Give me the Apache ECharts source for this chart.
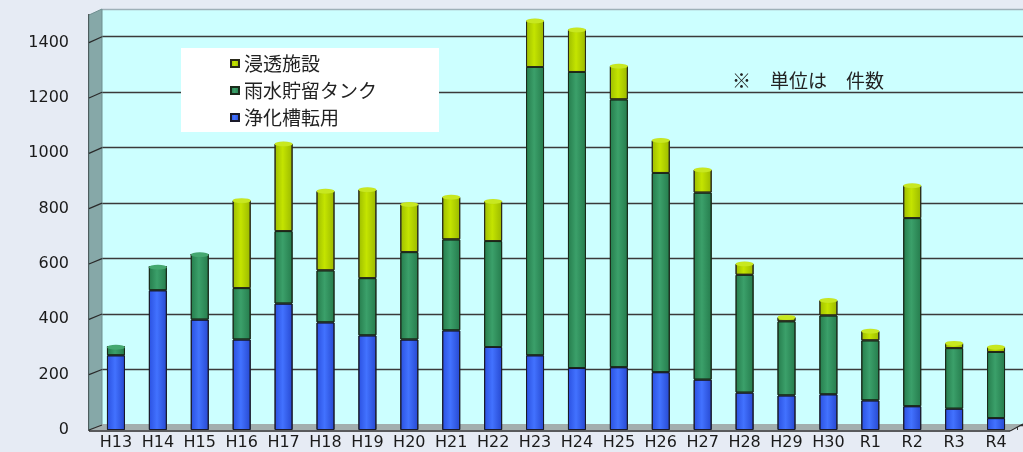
<!DOCTYPE html>
<html><head><meta charset="utf-8">
<script src="https://cdn.jsdelivr.net/npm/echarts@6/dist/echarts.min.js"></script>
<style>html,body{margin:0;padding:0;background:#e6ebf4;}#c{width:1023px;height:452px;}</style>
</head><body><div id="c"></div>
<script>
var categories = ['H13','H14','H15','H16','H17','H18','H19','H20','H21','H22','H23','H24','H25','H26','H27','H28','H29','H30','R1','R2','R3','R4'];
var jokaso  = [270,505,399,327,457,389,342,327,360,300,270,224,227,209,182,135,125,129,107,86,77,43];
var tank    = [30,84,235,186,262,188,207,316,329,383,1042,1070,968,720,676,426,268,285,217,680,219,239];
var shinto  = [0,0,0,317,316,287,320,173,153,144,167,153,121,118,83,40,15,55,34,118,18,18];
var yTicks  = [0,200,400,600,800,1000,1200,1400];
var seriesNames = ['浄化槽転用','雨水貯留タンク','浸透施設'];
var note = '※　単位は　件数';

var COL = {
  blue: new echarts.graphic.LinearGradient(0,0,1,0,[{offset:0,color:'#2a50e0'},{offset:0.45,color:'#4272ff'},{offset:1,color:'#2648d0'}]),
  green: new echarts.graphic.LinearGradient(0,0,1,0,[{offset:0,color:'#257c4c'},{offset:0.45,color:'#3ba06a'},{offset:1,color:'#257b4c'}]),
  yellow: new echarts.graphic.LinearGradient(0,0,1,0,[{offset:0,color:'#9cbc00'},{offset:0.45,color:'#c4e400'},{offset:1,color:'#9ab800'}])
};
var totals = categories.map(function(c,i){return jokaso[i]+tank[i]+shinto[i];});
var capData = totals.map(function(t,i){
  return {value:t, itemStyle:{color: shinto[i]>0 ? '#c8e820' : '#44a870'}};
});

var chart = echarts.init(document.getElementById('c'));
var FONT = 'DejaVu Sans';
var splitColors = yTicks.map(function(){return '#3a3a3a';}).concat(['#9fb0b8']);

var option = {
  backgroundColor:'#e6ebf4',
  animation:false,
  title:{text:note,left:727,top:66,textStyle:{fontSize:19,fontWeight:'normal',color:'#222',fontFamily:'Noto Sans CJK JP'}},
  legend:{
    orient:'vertical',left:181,top:48,
    data:[seriesNames[2],seriesNames[1],seriesNames[0]],
    backgroundColor:'#ffffff',
    padding:[6,62,5,49],
    itemWidth:8,itemHeight:7,itemGap:8,icon:'rect',
    textStyle:{fontSize:19,color:'#222',fontFamily:'Noto Sans CJK JP'}
  },
  grid:[
    {left:102,right:0,top:9,bottom:27,show:true,backgroundColor:'#ccffff',borderWidth:0},
    {left:95,right:6,top:15,bottom:22}
  ],
  xAxis:[
    {gridIndex:0,type:'value',show:false,min:0,max:1},
    {gridIndex:1,type:'category',data:categories,
      axisLine:{show:false},
      axisTick:{show:true,inside:true,length:3,lineStyle:{color:'#333'}},
      axisLabel:{fontSize:16,color:'#1a1a1a',fontFamily:FONT,margin:5,interval:0}}
  ],
  yAxis:[
    {gridIndex:0,type:'value',min:0,max:1500,interval:200,
      axisLabel:{show:false},axisLine:{show:false},axisTick:{show:false},
      splitLine:{show:true,lineStyle:{color:splitColors,width:1.3}}},
    {gridIndex:1,type:'value',min:0,max:1500,interval:200,offset:6,
      axisLine:{show:true,lineStyle:{color:'#2a2a2a',width:2}},
      axisTick:{show:false},splitLine:{show:false},
      axisLabel:{fontSize:16,color:'#1a1a1a',fontFamily:FONT,margin:20,showMaxLabel:false,
        formatter:function(v){return String(v);}}}
  ],
  series:[
    {name:seriesNames[0],type:'bar',stack:'a',xAxisIndex:1,yAxisIndex:1,barWidth:18,data:jokaso,z:3,
      itemStyle:{color:COL.blue,borderColor:'#1a1a2a',borderWidth:1}},
    {name:seriesNames[1],type:'bar',stack:'a',xAxisIndex:1,yAxisIndex:1,barWidth:18,data:tank,z:3,
      itemStyle:{color:COL.green,borderColor:'#1a2a1a',borderWidth:1}},
    {name:seriesNames[2],type:'bar',stack:'a',xAxisIndex:1,yAxisIndex:1,barWidth:18,data:shinto,z:3,
      itemStyle:{color:COL.yellow,borderColor:'#2a2a1a',borderWidth:1}},
    {name:'cap',type:'pictorialBar',xAxisIndex:1,yAxisIndex:1,symbol:'circle',symbolSize:[18,5],
      symbolPosition:'end',symbolOffset:[0,'-50%'],data:capData,z:4,
      itemStyle:{borderColor:'#222',borderWidth:1}}
  ]
};
chart.setOption(option);

// decorative 3D walls and connectors
var g = [];
g.push({type:'polygon',z:1,shape:{points:[[89,15],[102,9],[102,425],[89,430]]},style:{fill:'#86a8a8',stroke:'#6f8f90'}});
g.push({type:'polygon',z:1,shape:{points:[[89,430],[1010,430],[1023,424],[102,424]]},style:{fill:'#a3aeae'}});
g.push({type:'line',z:5,shape:{x1:89,y1:431,x2:1010,y2:431},style:{stroke:'#2a2a2a',lineWidth:1.5}});
g.push({type:'line',z:5,shape:{x1:1010,y1:431,x2:1023,y2:424},style:{stroke:'#2a2a2a',lineWidth:1.2}});
yTicks.forEach(function(v){
  var fy = chart.convertToPixel({yAxisIndex:1},v);
  var by = chart.convertToPixel({yAxisIndex:0},v);
  g.push({type:'line',z:2,shape:{x1:89,y1:fy,x2:102,y2:by},style:{stroke:'#2a2a2a',lineWidth:1.2}});
});
chart.setOption({graphic:g});
</script></body></html>
